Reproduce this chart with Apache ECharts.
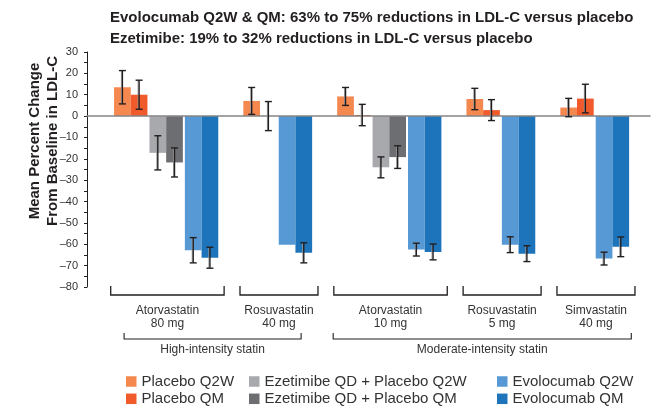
<!DOCTYPE html>
<html>
<head>
<meta charset="utf-8">
<script src="https://cdn.jsdelivr.net/npm/echarts@6/dist/echarts.min.js"></script>
<style>html,body{margin:0;padding:0;background:#fff;}#c{width:666px;height:406px;}</style>
</head>
<body>
<div id="c"></div>
<script>
// ---- data ----
const groups = ['Atorvastatin\n80 mg', 'Rosuvastatin\n40 mg', 'Atorvastatin\n10 mg', 'Rosuvastatin\n5 mg', 'Simvastatin\n40 mg'];
const tiers = ['High-intensity statin', 'Moderate-intensity statin'];
const tierFirstGroup = [0, 2];
const tierLastGroup = [1, 4];
const seriesNames = ['Placebo Q2W', 'Placebo QM', 'Ezetimibe QD + Placebo Q2W', 'Ezetimibe QD + Placebo QM', 'Evolocumab Q2W', 'Evolocumab QM'];
const placeboQ2W    = [13.5, 7.1, 9.2, 8.0, 4.0];
const placeboQ2WErr = [7.8, 6.3, 4.2, 5.0, 4.3];
const placeboQM     = [10.0, 0.0, 0.5, 2.8, 8.2];
const placeboQMErr  = [6.8, 6.8, 5.0, 4.9, 6.7];
const ezeQ2W        = [-17.2, null, -24.0, null, null];
const ezeQ2WErr     = [8.0, null, 4.9, null, null];
const ezeQM         = [-21.7, null, -19.2, null, null];
const ezeQMErr      = [6.8, null, 5.3, null, null];
const evoQ2W        = [-62.8, -60.2, -62.5, -60.2, -66.7];
const evoQ2WErr     = [5.9, null, 3.0, 3.7, 3.0];
const evoQM         = [-66.3, -64.0, -63.6, -64.4, -61.2];
const evoQMErr      = [4.9, 4.7, 3.7, 3.7, 4.6];
const yMin = -80, yMax = 30, yStep = 10;

// ---- styling / layout ----
const colors = ['#F5884F', '#F15A2B', '#A7A9AC', '#6D6E71', '#5699D4', '#1E74BB'];
const GRID = {left: 87, right: 16, top: 52, bottom: 119};
const XMAX = 33.71, LEAD = 1.62, PAIR_GAP = 0.12, GROUP_GAP = 1.5;
const barPx = (666 - GRID.left - GRID.right) / XMAX;

const values = [placeboQ2W, placeboQM, ezeQ2W, ezeQM, evoQ2W, evoQM];
const errs = [placeboQ2WErr, placeboQMErr, ezeQ2WErr, ezeQMErr, evoQ2WErr, evoQMErr];

// compute slot positions from the group structure
const seriesData = values.map(() => []);
const errData = [];
const groupSpan = [];
let cur = LEAD;
groups.forEach((g, gi) => {
  const start = cur;
  for (let p = 0; p < 3; p++) {
    const a = p * 2, b = p * 2 + 1;
    if (values[a][gi] === null && values[b][gi] === null) continue;
    [a, b].forEach((si, k) => {
      const x = cur + 0.5 + k;
      seriesData[si].push([x, values[si][gi]]);
      if (errs[si][gi] !== null) errData.push([x, values[si][gi], errs[si][gi]]);
    });
    cur += 2 + PAIR_GAP;
  }
  cur -= PAIR_GAP;
  groupSpan.push([start, cur, gi]);
  cur += GROUP_GAP;
});
const tierSpan = tiers.map((t, i) => [groupSpan[tierFirstGroup[i]][0], groupSpan[tierLastGroup[i]][1], i]);
const tierPad = [[0.6, -0.66], [-0.24, 0.13]];

const ink = '#231F20';
const FONT = 'Liberation Sans, Arial, sans-serif';
const series = seriesNames.map((n, i) => ({
  name: n, type: 'bar', data: seriesData[i], barWidth: barPx, barGap: '-100%',
  itemStyle: {color: colors[i]}, z: 2, silent: true
}));

series.push({
  name: 'err', type: 'custom', data: errData, z: 6, silent: true,
  renderItem: function (params, api) {
    const x = api.value(0), m = api.value(1), e = api.value(2);
    const t = api.coord([x, m + e]), b = api.coord([x, m - e]);
    const cw = 3.5, st = {stroke: ink, lineWidth: 1.4};
    return {type: 'group', children: [
      {type: 'line', shape: {x1: t[0] - 1, y1: t[1], x2: b[0] - 1, y2: b[1]}, style: {stroke: '#9a9a9a', lineWidth: 1}},
      {type: 'line', shape: {x1: t[0], y1: t[1], x2: b[0], y2: b[1]}, style: st},
      {type: 'line', shape: {x1: t[0] - cw, y1: t[1], x2: t[0] + cw, y2: t[1]}, style: st},
      {type: 'line', shape: {x1: b[0] - cw, y1: b[1], x2: b[0] + cw, y2: b[1]}, style: st}
    ]};
  }
});

series.push({
  name: 'groupBrackets', type: 'custom', data: groupSpan, clip: false, silent: true, z: 3,
  renderItem: function (params, api) {
    const s = api.coord([api.value(0) - 0.2, 0])[0], e = api.coord([api.value(1) + 0.35, 0])[0];
    const cs = params.coordSys;
    const y0 = cs.y + cs.height - 1, y1 = y0 + 9;
    return {type: 'group', children: [
      {type: 'polyline', shape: {points: [[s, y0], [s, y1], [e, y1], [e, y0]]}, style: {stroke: ink, lineWidth: 1.3, fill: null}},
      {type: 'text', style: {text: groups[api.value(2)], x: (s + e) / 2, y: y1 + 9, align: 'center', verticalAlign: 'top',
        fontSize: 12, lineHeight: 13, fill: '#333', fontFamily: FONT}}
    ]};
  }
});

series.push({
  name: 'tierBrackets', type: 'custom', data: tierSpan, clip: false, silent: true, z: 3,
  renderItem: function (params, api) {
    const i = api.value(2);
    const s = api.coord([api.value(0) + tierPad[i][0], 0])[0], e = api.coord([api.value(1) + tierPad[i][1], 0])[0];
    const cs = params.coordSys;
    const y0 = cs.y + cs.height + 46, y1 = y0 + 6;
    return {type: 'group', children: [
      {type: 'polyline', shape: {points: [[s, y0], [s, y1], [e, y1], [e, y0]]}, style: {stroke: ink, lineWidth: 1.1, fill: null}},
      {type: 'text', style: {text: tiers[i], x: (s + e) / 2, y: y1 + 5, align: 'center', verticalAlign: 'top',
        fontSize: 12, fill: '#333', fontFamily: FONT}}
    ]};
  }
});

function makeLegend(names, left) {
  return {
    type: 'plain', orient: 'vertical', left: left, top: 369, height: 40,
    itemWidth: 10.5, itemHeight: 10.5, itemGap: 2.3, icon: 'rect',
    selectedMode: false, data: names,
    textStyle: {fontSize: 15, color: '#333', lineHeight: 15, fontFamily: FONT}
  };
}

const chart = echarts.init(document.getElementById('c'), null, {renderer: 'canvas'});
chart.setOption({
  animation: false,
  textStyle: {fontFamily: FONT},
  title: {
    text: 'Evolocumab Q2W & QM: 63% to 75% reductions in LDL-C versus placebo\nEzetimibe: 19% to 32% reductions in LDL-C versus placebo',
    left: 105, top: 2,
    textStyle: {fontSize: 15, fontWeight: 'bold', color: ink, lineHeight: 21, fontFamily: FONT}
  },
  legend: [
    makeLegend(seriesNames.slice(0, 2), 121),
    makeLegend(seriesNames.slice(2, 4), 244),
    makeLegend(seriesNames.slice(4, 6), 492)
  ],
  graphic: [{
    type: 'text', x: 44, y: 141, rotation: Math.PI / 2,
    style: {text: 'Mean Percent Change\nFrom Baseline in LDL-C', fontSize: 15, fontWeight: 'bold', lineHeight: 18,
      align: 'center', verticalAlign: 'middle', fill: ink, fontFamily: FONT}
  }],
  grid: GRID,
  xAxis: {
    type: 'value', min: 0, max: XMAX, z: 5,
    axisLine: {show: true, onZero: true, lineStyle: {color: '#858585', width: 1.6}},
    axisTick: {show: false}, axisLabel: {show: false}, splitLine: {show: false}
  },
  yAxis: {
    type: 'value', min: yMin, max: yMax, interval: yStep,
    axisLine: {show: true, onZero: false, lineStyle: {color: ink, width: 1}},
    axisTick: {show: true, inside: false, length: 3, lineStyle: {color: ink}},
    minorTick: {show: true, splitNumber: 2, length: 3, lineStyle: {color: ink}},
    axisLabel: {fontSize: 11, color: '#333', margin: 9, formatter: v => (v < 0 ? '\u2013' + Math.abs(v) : String(v))},
    splitLine: {show: false}
  },
  series: series
});
</script>
</body>
</html>
